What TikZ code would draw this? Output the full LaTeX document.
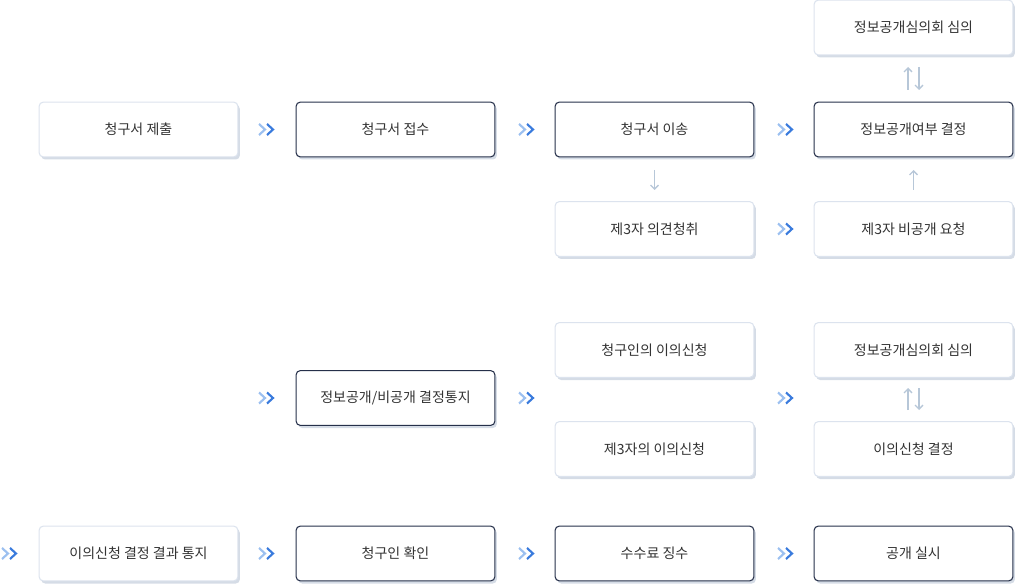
\documentclass[tikz,border=0pt]{standalone}
\usepackage{fontspec}
\setmainfont{Noto Sans CJK KR}
\usetikzlibrary{arrows.meta}
\definecolor{dk}{HTML}{26304A}
\definecolor{lt}{HTML}{DCE3EE}
\definecolor{sh}{HTML}{D5DCE6}
\definecolor{cA}{HTML}{9CC0F0}
\definecolor{cB}{HTML}{3A7BDD}
\definecolor{ar}{HTML}{B7C7D8}
\tikzset{
 base/.style={rounded corners=3pt,fill=white,minimum width=149pt,minimum height=41pt,font=\fontsize{10.5pt}{12pt}\selectfont,text=black!80,
  preaction={fill=sh,transform canvas={shift={(1.5pt,-2pt)}}}},
 dkbox/.style={base,draw=dk,line width=0.8pt},
 ltbox/.style={base,draw=lt,line width=0.8pt},
 arr/.style={draw=ar,line width=1pt,-{Straight Barb[length=3pt,width=6pt]}},
}
\newcommand{\chev}[2]{%
 \draw[cA,line width=1.6pt] (#1-4,#2-5.5)--(#1+2,#2)--(#1-4,#2+5.5);
 \draw[cB,line width=1.6pt] (#1+4,#2-5.5)--(#1+10,#2)--(#1+4,#2+5.5);}
\begin{document}
\begin{tikzpicture}[x=0.75pt,y=-0.75pt]
\useasboundingbox (0,0) rectangle (1016,584);
\node[ltbox] (a1) at (138.5,129.5) {청구서 제출};
\node[dkbox] (a2) at (395.5,129.5) {청구서 접수};
\node[dkbox] (a3) at (654.5,129.5) {청구서 이송};
\node[dkbox] (a4) at (913.5,129.5) {정보공개여부 결정};
\node[ltbox] (t4) at (913.5,27.5) {정보공개심의회 심의};
\node[ltbox] (b3) at (654.5,229) {제3자 의견청취};
\node[ltbox] (b4) at (913.5,229) {제3자 비공개 요청};
\node[dkbox] (c2) at (395.5,398) {정보공개/비공개 결정통지};
\node[ltbox] (c3) at (654.5,350) {청구인의 이의신청};
\node[ltbox] (d3) at (654.5,449) {제3자의 이의신청};
\node[ltbox] (c4) at (913.5,350) {정보공개심의회 심의};
\node[ltbox] (d4) at (913.5,449) {이의신청 결정};
\node[ltbox] (e1) at (138.5,553.5) {이의신청 결정 결과 통지};
\node[dkbox] (e2) at (395.5,553.5) {청구인 확인};
\node[dkbox] (e3) at (654.5,553.5) {수수료 징수};
\node[dkbox] (e4) at (913.5,553.5) {공개 실시};
\chev{263}{129.5}\chev{523}{129.5}\chev{782}{129.5}
\chev{782}{229}
\chev{263}{398}\chev{523}{398}\chev{782}{398}
\chev{6}{553.5}\chev{263}{553.5}\chev{523}{553.5}\chev{782}{553.5}
\draw[arr] (654.5,170)--(654.5,190);
\draw[arr] (913.5,190)--(913.5,170);
\draw[arr] (908,90)--(908,67);
\draw[arr] (919,67)--(919,90);
\draw[arr] (908,410)--(908,388);
\draw[arr] (919,388)--(919,410);
\end{tikzpicture}
\end{document}
